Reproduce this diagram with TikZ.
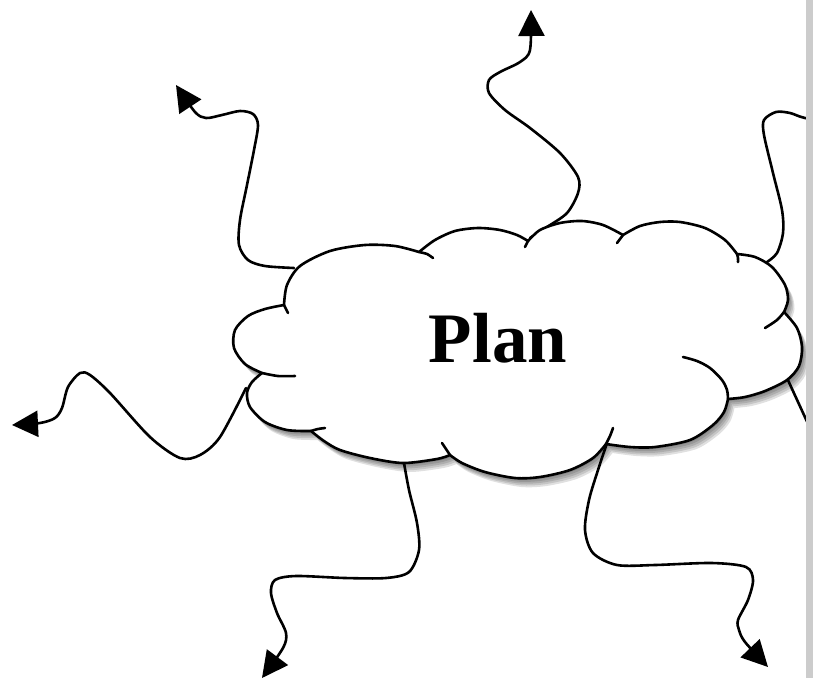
\documentclass[tikz,border=0pt]{standalone}
\usepackage{fontspec}
\newfontfamily\planfont{Liberation Serif}
\usetikzlibrary{arrows.meta}

% Outline of the cloud: one smooth bump between each pair of cusps
\newcommand{\plancloud}{
  plot[smooth] coordinates {(284,305) (287,285) (300,266) (330,251) (365,245) (395,246) (419,252)}
  -- plot[smooth] coordinates {(419,252) (435,240) (455,231) (478,228) (500,230) (517,235) (528,241)}
  -- plot[smooth] coordinates {(528,241) (540,230) (560,223) (582,221) (603,225) (623,235)}
  -- plot[smooth] coordinates {(623,235) (640,226) (660,222) (680,222) (705,228) (725,240) (737,254)}
  -- plot[smooth] coordinates {(737,254) (755,257) (772,267) (785,285) (788,300) (784,312)}
  -- plot[smooth] coordinates {(784,312) (797,328) (802,347) (799,366) (787,380) (765,391) (745,397) (728,399)}
  -- plot[smooth] coordinates {(728,399) (724,412) (713,425) (690,440) (655,447) (630,447) (606,444)}
  -- plot[smooth] coordinates {(606,444) (593,458) (570,470) (540,477) (515,478) (485,472) (462,463) (450,455)}
  -- plot[smooth] coordinates {(450,455) (437,459) (403,463) (370,458) (340,450) (324,441) (311,431)}
  -- plot[smooth] coordinates {(311,431) (287,430) (265,422) (250,407) (247,393) (252,382) (262,373)}
  -- plot[smooth] coordinates {(262,373) (245,364) (234,348) (235,330) (248,316) (265,309) (284,305)}
  -- cycle}

\begin{document}
\begin{tikzpicture}[x=1pt,y=-1pt,
  cloudline/.style={line width=2.6pt, line join=round, line cap=round},
  wire/.style={line width=2.6pt, line cap=round, line join=round,
    -{Triangle[length=26pt,width=26pt]}},
  openwire/.style={line width=2.6pt, line cap=round, line join=round},
]
\useasboundingbox (0,0) rectangle (813,678);

\begin{scope}
\clip (0,0) rectangle (806,678);

% soft drop shadow below and right of the cloud
\foreach \d in {2,4,6,8,10}
  \fill[black, opacity=0.12, shift={(\d*0.65,\d*0.9)}] \plancloud;

% points where the connectors leave the cloud
\coordinate (oNW) at (294,268);
\coordinate (oN)  at (530,238);
\coordinate (oNE) at (767,262);
\coordinate (oE)  at (787,378);
\coordinate (oSE) at (607,443);
\coordinate (oS)  at (404,463);
\coordinate (oW)  at (246,388);

% free ends of the connectors
\coordinate (tNW) at (176,85);
\coordinate (tN)  at (531,10);
\coordinate (tNE) at (840,124);
\coordinate (tE)  at (832,476);
\coordinate (tSE) at (768,667);
\coordinate (tS)  at (262,678);
\coordinate (tW)  at (12,425);

% wavy connectors
\draw[wire] plot[smooth] coordinates {(oNW) (265,266) (248,260) (239,245) (240,220) (247,185) (254,150) (258,125) (253,114) (240,111) (222,115) (206,118) (195,112) (tNW)};
\draw[wire] plot[smooth] coordinates {(oN) (547,227) (567,213) (578,193) (578,177) (560,153) (530,128) (505,110) (489,93) (489,80) (500,72) (520,62) (530,50) (tN)};
\draw[openwire] plot[smooth] coordinates {(oNE) (777,253) (783,233) (782,210) (773,173) (764,135) (764,120) (776,112) (790,113) (805,118) (tNE)};
\draw[openwire] (oE) -- (tE);
\draw[wire] plot[smooth] coordinates {(oSE) (598,470) (589,500) (585,530) (593,553) (617,565) (655,565) (712,563) (746,567) (753,580) (748,600) (738,620) (739,630) (745,642) (tSE)};
\draw[wire] plot[smooth] coordinates {(oS) (409,490) (417,523) (419,550) (409,572) (386,578) (345,578) (296,576) (275,580) (271,593) (277,613) (286,633) (283,648) (tS)};
\draw[wire] plot[smooth] coordinates {(oW) (220,437) (200,455) (180,458) (150,437) (110,393) (90,375) (80,373) (68,387) (62,408) (55,418) (40,423) (tW)};

% the cloud itself
\filldraw[cloudline, fill=white] \plancloud;

% short inner ends of the bumps
\draw[cloudline] (284,305) -- (288,313);
\draw[cloudline] plot[smooth] coordinates {(419,252) (427,254) (433,258)};
\draw[cloudline] (528,241) -- (525,247);
\draw[cloudline] (623,235) -- (617,243);
\draw[cloudline] plot[smooth] coordinates {(737,254) (738,258) (738,262)};
\draw[cloudline] plot[smooth] coordinates {(784,312) (777,320) (765,328)};
\draw[cloudline] plot[smooth] coordinates {(728,399) (727,390) (722,380) (710,368) (697,361) (683,357)};
\draw[cloudline] plot[smooth] coordinates {(606,444) (610,436) (613,428)};
\draw[cloudline] plot[smooth] coordinates {(450,455) (446,449) (442,443)};
\draw[cloudline] plot[smooth] coordinates {(311,431) (318,429) (325,428)};
\draw[cloudline] plot[smooth] coordinates {(262,373) (278,376) (295,376)};

\node[anchor=base, inner sep=0pt, font=\planfont\bfseries\fontsize{71}{80}\selectfont] (plan) at (498,362) {Plan};
\end{scope}

% page edge stripe
\fill[gray!40] (806,0) rectangle (813,678);
\end{tikzpicture}
\end{document}
